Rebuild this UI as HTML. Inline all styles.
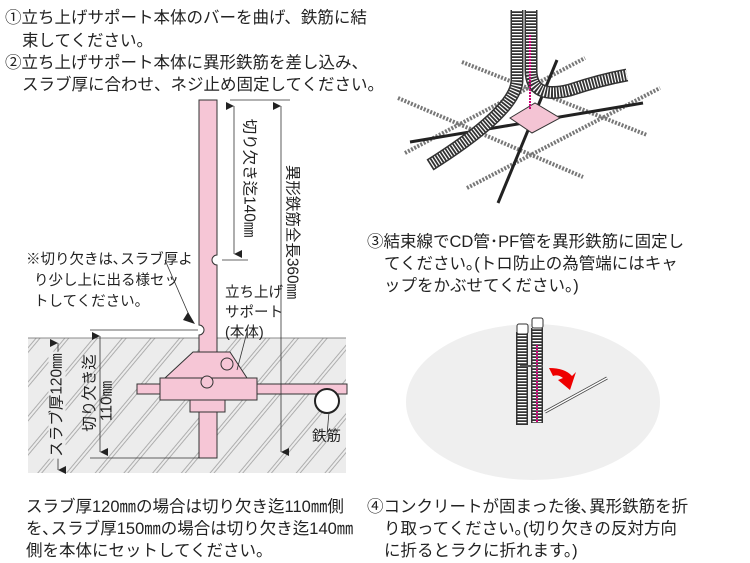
<!DOCTYPE html><html><head><meta charset="utf-8"><style>
body{margin:0;width:750px;height:563px;background:#fff;overflow:hidden;position:relative;font-family:"Liberation Sans","Noto Sans CJK JP",sans-serif;color:#222}
.t{position:absolute;font-size:16.5px;line-height:22px;white-space:nowrap}
.r{position:absolute;font-size:15.5px;line-height:17px;white-space:nowrap;transform:translate(-50%,-50%) rotate(90deg)}
.l{position:absolute;font-size:15.5px;line-height:17px;white-space:nowrap;transform:translate(-50%,-50%) rotate(-90deg)}
</style></head><body>
<svg width="750" height="563" style="position:absolute;left:0;top:0">
<defs>
<pattern id="h" width="22" height="22" patternUnits="userSpaceOnUse" patternTransform="rotate(-50)">
<rect width="22" height="22" fill="#ececec"/>
<line x1="0" y1="3" x2="22" y2="3" stroke="#999" stroke-width="0.7"/>
<line x1="0" y1="6" x2="22" y2="6" stroke="#999" stroke-width="0.7"/>
</pattern>
<marker id="a" markerWidth="8" markerHeight="8" refX="4" refY="8" orient="auto-start-reverse" markerUnits="userSpaceOnUse"><path d="M0,0 L8,0 L4,8z" fill="#222"/></marker>
</defs>
<rect x="28" y="338" width="318" height="135" fill="url(#h)"/>
<line x1="28" y1="338" x2="346" y2="338" stroke="#666" stroke-width="0.8"/>
<path d="M199,100 H217 V255 a5,5 0 0 0 0,10 V458 H199 V335 a5,5 0 0 0 0,-10z" fill="#f6c6d6" stroke="#333" stroke-width="1"/>
<rect x="137" y="384" width="210" height="10" fill="#f6c6d6" stroke="#333"/>
<path d="M193,352 H230 L247,378 H165z" fill="#f6c6d6" stroke="#333"/>
<rect x="160" y="378" width="97" height="22" fill="#f6c6d6" stroke="#333"/>
<rect x="190" y="400" width="35" height="12" fill="#f6c6d6" stroke="#333"/>
<circle cx="227" cy="364" r="6" fill="none" stroke="#333"/>
<circle cx="207" cy="382" r="6" fill="#f6c6d6" stroke="#333"/>
<circle cx="327" cy="401" r="12" fill="#fff" stroke="#222" stroke-width="2"/>
<line x1="329" y1="412" x2="327" y2="435" stroke="#333" stroke-width="0.8"/>
<line x1="230" y1="100" x2="290" y2="100" stroke="#333" stroke-width="0.8"/>
<line x1="222" y1="260" x2="248" y2="260" stroke="#333" stroke-width="0.8"/>
<line x1="234" y1="106" x2="234" y2="254" stroke="#333" stroke-width="0.8" marker-start="url(#a)" marker-end="url(#a)"/>
<line x1="281" y1="106" x2="281" y2="452" stroke="#333" stroke-width="0.8" marker-start="url(#a)" marker-end="url(#a)"/>
<line x1="90" y1="330" x2="198" y2="330" stroke="#333" stroke-width="0.8"/>
<line x1="90" y1="458" x2="200" y2="458" stroke="#333" stroke-width="0.8"/>
<line x1="100" y1="336" x2="100" y2="452" stroke="#333" stroke-width="0.8" marker-start="url(#a)" marker-end="url(#a)"/>
<line x1="58" y1="343" x2="58" y2="470" stroke="#333" stroke-width="0.8" marker-start="url(#a)" marker-end="url(#a)"/>
<line x1="165" y1="260" x2="192" y2="322" stroke="#333" stroke-width="0.8"/>
<path d="M188,312 L195,324 L183,320z" fill="#222"/>
<line x1="247" y1="332" x2="237" y2="370" stroke="#333" stroke-width="0.8"/>
<g stroke="#777" stroke-width="4" stroke-dasharray="2 1.5" fill="none">
<line x1="398" y1="98" x2="583" y2="177"/><line x1="462" y1="62" x2="647" y2="135"/>
<line x1="405" y1="153" x2="585" y2="58"/><line x1="467" y1="188" x2="660" y2="88"/>
</g>
<g stroke="#222" stroke-width="3"><line x1="410" y1="142" x2="643" y2="103"/><line x1="498" y1="203" x2="557" y2="60"/></g>
<path d="M510,118 L535,103 L560,118 L532,133z" fill="#f4c4d4" stroke="#333"/>
<g fill="none" stroke="#333" stroke-width="13"><path d="M517,10 V80 Q517,110 430,165"/><path d="M531,10 V70 Q531,100 570,90 Q600,80 627,75"/></g>
<g fill="none" stroke="#fff" stroke-width="10" stroke-dasharray="1.2 1.8"><path d="M517,10 V80 Q517,110 430,165"/><path d="M531,10 V70 Q531,100 570,90 Q600,80 627,75"/></g>
<line x1="530" y1="35" x2="530" y2="110" stroke="#c07" stroke-width="2" stroke-dasharray="2 1"/>
<ellipse cx="533" cy="402" rx="127" ry="78" fill="#efefef"/>
<g fill="none" stroke="#333" stroke-width="12"><path d="M522,332 V425"/><path d="M537,328 V423"/></g>
<g fill="none" stroke="#fff" stroke-width="9" stroke-dasharray="1.2 1.8"><path d="M522,332 V425"/><path d="M537,328 V423"/></g>
<rect x="517" y="324" width="11" height="10" rx="2" fill="#fff" stroke="#333"/>
<rect x="532" y="318" width="11" height="10" rx="2" fill="#fff" stroke="#333"/>
<line x1="537" y1="345" x2="537" y2="423" stroke="#c07" stroke-width="2" stroke-dasharray="2 1"/>
<line x1="520" y1="366" x2="543" y2="366" stroke="#555" stroke-width="2"/>
<line x1="545" y1="412" x2="607" y2="378" stroke="#444" stroke-width="3"/>
<line x1="545" y1="412" x2="607" y2="378" stroke="#fff" stroke-width="1.5"/>
<path d="M549,368 Q565,368 572,376 L576,372 L570,390 L558,380 L563,378 Q558,374 553,376z" fill="#e00"/>
</svg>
<div class="t" style="left:5px;top:7px">①立ち上げサポート本体のバーを曲げ、鉄筋に結</div>
<div class="t" style="left:22px;top:30px">束してください。</div>
<div class="t" style="left:5px;top:52px">②立ち上げサポート本体に異形鉄筋を差し込み、</div>
<div class="t" style="left:22px;top:74px">スラブ厚に合わせ、ネジ止め固定してください。</div>
<div class="t" style="left:26px;top:250px;font-size:14.5px;line-height:21px">※切り欠きは､スラブ厚よ<br>&nbsp;&nbsp;り少し上に出る様セッ<br>&nbsp;&nbsp;トしてください。</div>
<div class="t" style="left:225px;top:283px;font-size:14.5px;line-height:20px">立ち上げ<br>サポート<br>(本体)</div>
<div class="t" style="left:312px;top:426px;font-size:14.5px">鉄筋</div>
<div class="r" style="left:249px;top:178px">切り欠き迄140㎜</div>
<div class="r" style="left:292px;top:232px">異形鉄筋全長360㎜</div>
<div class="l" style="left:57px;top:405px;background:#ececec;padding:0 2px">スラブ厚120㎜</div>
<div class="l" style="left:90px;top:393px">切り欠き迄</div>
<div class="l" style="left:107px;top:401px">110㎜</div>
<div class="t" style="left:367px;top:231px">③結束線でCD管･PF管を異形鉄筋に固定し</div>
<div class="t" style="left:384px;top:253px">てください｡(トロ防止の為管端にはキャ</div>
<div class="t" style="left:384px;top:275px">ップをかぶせてください。)</div>
<div class="t" style="left:26px;top:496px">スラブ厚120㎜の場合は切り欠き迄110㎜側</div>
<div class="t" style="left:26px;top:518px">を､スラブ厚150㎜の場合は切り欠き迄140㎜</div>
<div class="t" style="left:26px;top:540px">側を本体にセットしてください。</div>
<div class="t" style="left:367px;top:496px">④コンクリートが固まった後､異形鉄筋を折</div>
<div class="t" style="left:384px;top:518px">り取ってください｡(切り欠きの反対方向</div>
<div class="t" style="left:384px;top:540px">に折るとラクに折れます。)</div>
</body></html>
